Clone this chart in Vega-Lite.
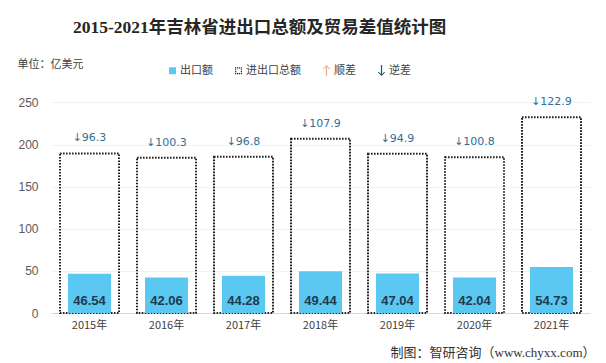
{
  "$schema": "https://vega.github.io/schema/vega-lite/v6.json",
  "autosize": "none",
  "width": 539,
  "height": 219,
  "padding": {"left": 51, "top": 94, "right": 16, "bottom": 50},
  "background": "#ffffff",
  "title": {
    "text": "2015-2021年吉林省进出口总额及贸易差值统计图",
    "anchor": "start",
    "frame": "group",
    "dx": 22,
    "offset": 22,
    "font": "Liberation Serif, Noto Sans CJK SC",
    "fontSize": 17.5,
    "fontWeight": "bold",
    "color": "#262626"
  },
  "data": {
    "values": [
      {"year": "2015年", "export": 46.54, "total": 189.38, "diff": "↓96.3"},
      {"year": "2016年", "export": 42.06, "total": 184.42, "diff": "↓100.3"},
      {"year": "2017年", "export": 44.28, "total": 185.36, "diff": "↓96.8"},
      {"year": "2018年", "export": 49.44, "total": 206.78, "diff": "↓107.9"},
      {"year": "2019年", "export": 47.04, "total": 188.98, "diff": "↓94.9"},
      {"year": "2020年", "export": 42.04, "total": 184.88, "diff": "↓100.8"},
      {"year": "2021年", "export": 54.73, "total": 232.36, "diff": "↓122.9"}
    ]
  },
  "encoding": {
    "x": {
      "field": "year",
      "type": "nominal",
      "sort": null,
      "scale": {"paddingInner": 0, "paddingOuter": 0},
      "axis": {
        "title": "制图：智研咨询（www.chyxx.com）",
        "titleAnchor": "end",
        "titleAlign": "right",
        "titleBaseline": "middle",
        "titleX": 544,
        "titleY": 39,
        "titleFont": "Liberation Serif, Noto Sans CJK SC",
        "titleFontSize": 13,
        "titleFontWeight": "normal",
        "titleColor": "#333333",
        "labelAngle": 0,
        "labelFont": "Noto Sans CJK SC",
        "labelFontSize": 11,
        "labelColor": "#404040",
        "labelPadding": 6,
        "ticks": false,
        "domain": true,
        "domainColor": "#D9D9D9",
        "grid": false
      }
    }
  },
  "layer": [
    {
      "mark": {"type": "bar", "size": 59, "fill": null, "fillOpacity": 0, "stroke": "#222222", "strokeWidth": 2, "strokeDash": [1.6, 1.4]},
      "encoding": {
        "y": {
          "field": "total",
          "type": "quantitative",
          "scale": {"domain": [0, 250]},
          "axis": {
            "values": [0, 50, 100, 150, 200, 250],
            "title": "单位：亿美元",
            "titleAngle": 0,
            "titleAlign": "left",
            "titleBaseline": "middle",
            "titleX": -34,
            "titleY": -30,
            "titleFont": "Noto Sans CJK SC",
            "titleFontSize": 11,
            "titleFontWeight": "normal",
            "titleColor": "#404040",
            "labelFont": "Liberation Sans",
            "labelFontSize": 12,
            "labelColor": "#595959",
            "labelPadding": 13,
            "ticks": false,
            "domain": false,
            "grid": true,
            "gridColor": "#F2F2F2"
          }
        }
      }
    },
    {
      "mark": {"type": "bar", "size": 43, "color": "#5BC8F2"},
      "encoding": {"y": {"field": "export", "type": "quantitative"}}
    },
    {
      "mark": {"type": "text", "baseline": "middle", "dy": -12, "fontWeight": "bold", "fontSize": 13, "font": "Liberation Sans", "color": "#1F3A4F"},
      "encoding": {
        "y": {"datum": 0, "type": "quantitative"},
        "text": {"field": "export", "type": "quantitative", "format": ".2f"}
      }
    },
    {
      "mark": {"type": "text", "baseline": "bottom", "dy": -10, "fontSize": 11, "font": "DejaVu Sans", "color": "#2F6F96"},
      "encoding": {
        "y": {"field": "total", "type": "quantitative"},
        "text": {"field": "diff", "type": "nominal"}
      }
    },
    {
      "transform": [{"filter": "false"}],
      "mark": {"type": "point", "filled": true, "opacity": 1},
      "encoding": {
        "color": {
          "field": "kind",
          "type": "nominal",
          "scale": {"domain": ["出口额", "进出口总额", "顺差", "逆差"], "range": ["#5BC8F2", "#222222", "#F4B183", "#1F5A6E"]},
          "legend": {
            "title": null,
            "orient": "none",
            "legendX": 116,
            "legendY": -29,
            "direction": "horizontal",
            "columnPadding": 20,
            "labelFont": "Noto Sans CJK SC",
            "labelFontSize": 11,
            "labelColor": "#404040",
            "labelOffset": 2,
            "symbolSize": 49,
            "symbolOpacity": 1,
            "symbolStrokeWidth": 0
          }
        },
        "shape": {
          "field": "kind",
          "type": "nominal",
          "scale": {
            "domain": ["出口额", "进出口总额", "顺差", "逆差"],
            "range": [
              "square",
              "M-1,-1h0.34v0.34h-0.34ZM-0.45,-1h0.34v0.34h-0.34ZM0.1,-1h0.34v0.34h-0.34ZM0.66,-1h0.34v0.34h-0.34ZM-1,0.66h0.34v0.34h-0.34ZM-0.45,0.66h0.34v0.34h-0.34ZM0.1,0.66h0.34v0.34h-0.34ZM0.66,0.66h0.34v0.34h-0.34ZM-1,-0.45h0.34v0.34h-0.34ZM-1,0.1h0.34v0.34h-0.34ZM0.66,-0.45h0.34v0.34h-0.34ZM0.66,0.1h0.34v0.34h-0.34Z",
              "M0,-1.55L1,-0.55L0.8,-0.35L0.18,-0.97L0.18,1.55L-0.18,1.55L-0.18,-0.97L-0.8,-0.35L-1,-0.55Z",
              "M0,1.55L1,0.55L0.8,0.35L0.18,0.97L0.18,-1.55L-0.18,-1.55L-0.18,0.97L-0.8,0.35L-1,0.55Z"
            ]
          }
        }
      }
    }
  ],
  "config": {
    "view": {"stroke": null}
  }
}
